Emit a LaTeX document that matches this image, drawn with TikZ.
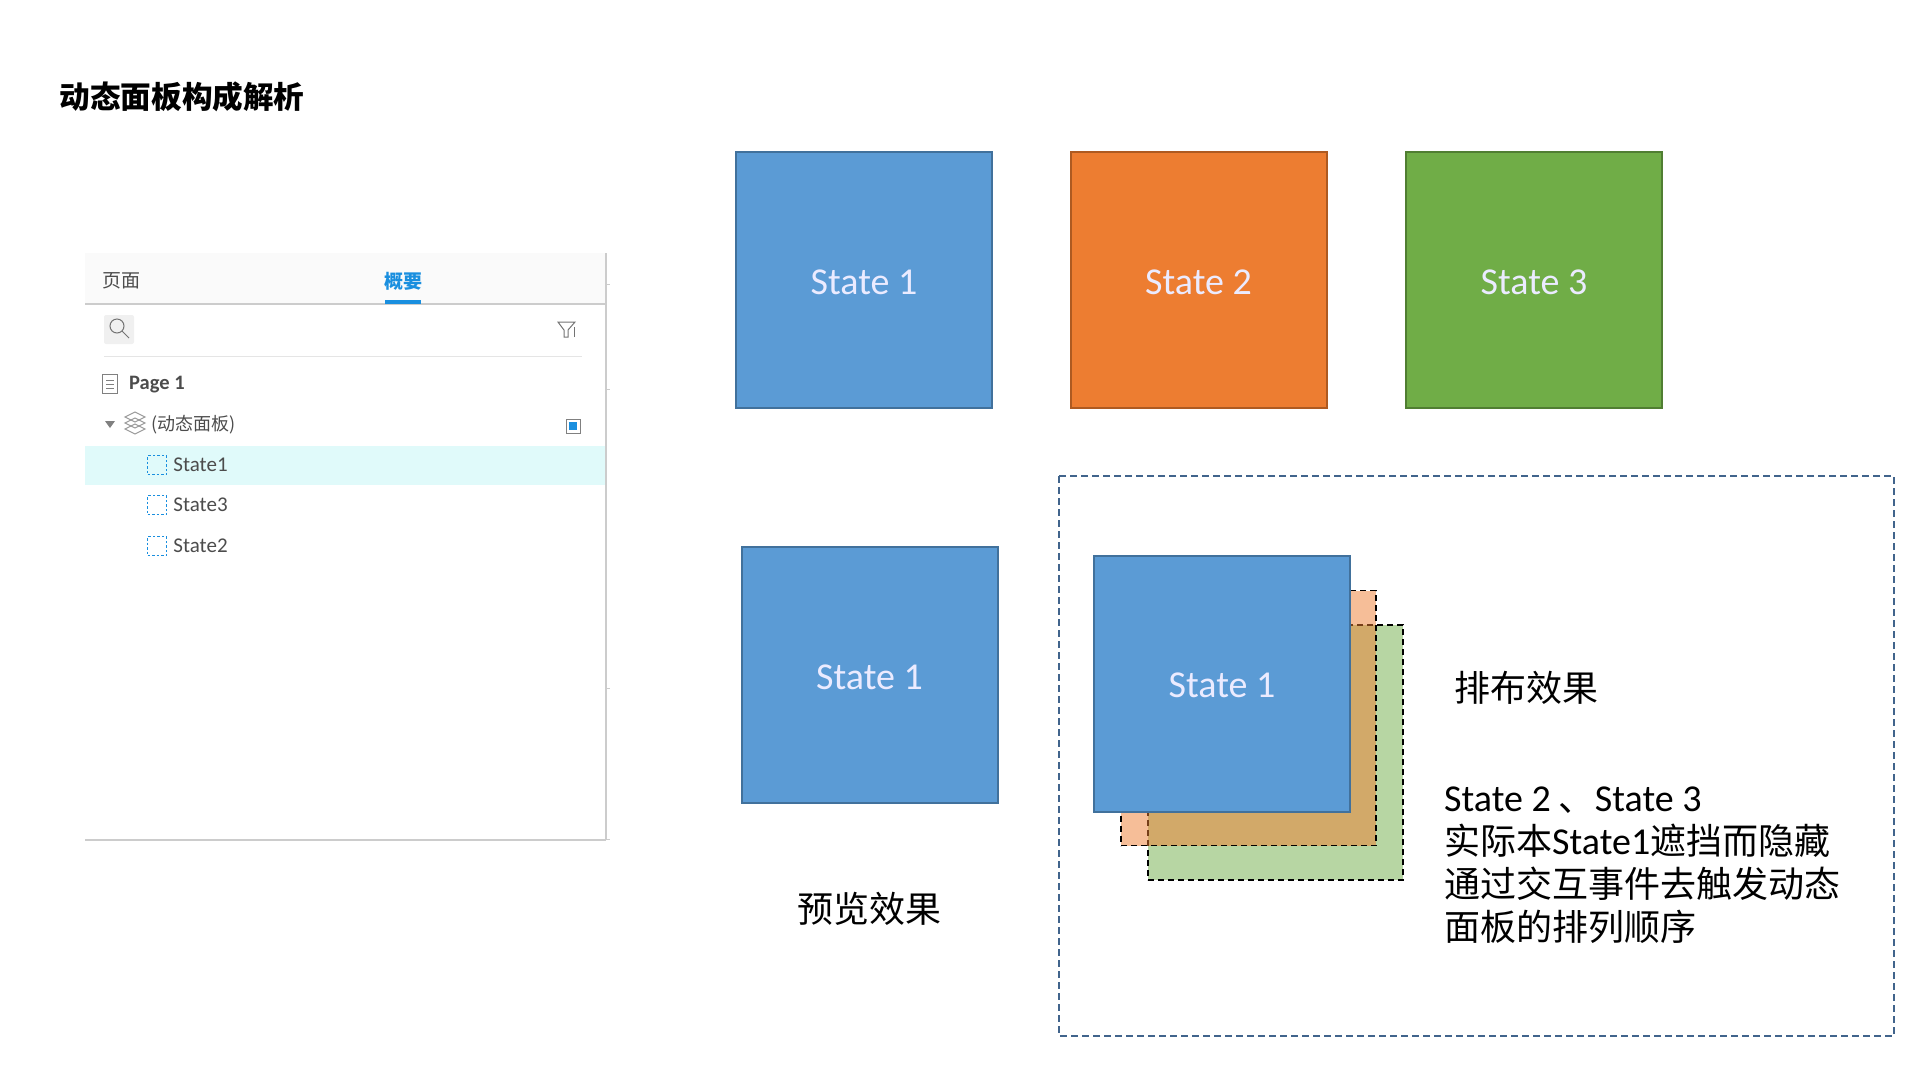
\documentclass[tikz,border=0pt]{standalone}
\usepackage{fontspec}
\setmainfont{Carlito}
\newfontfamily\cjk{Noto Sans CJK SC}
\newcommand{\statename}[1]{{\rmfamily\fontsize{38}{43}\selectfont #1}}
\definecolor{rowblue}{RGB}{26,143,223}
\definecolor{rowhigh}{RGB}{224,250,250}
\usetikzlibrary{positioning}

\begin{document}
\begin{tikzpicture}[
  x=1pt,y=-1pt,
  every node/.style={inner sep=0pt,font=\cjk\fontsize{36}{43}\selectfont},
  statebox/.style={minimum size=256pt,line width=2pt,text=white!92!blue,text height=28pt,text depth=0pt,font=\fontsize{38}{44}\selectfont},
  backbox/.style={minimum size=255pt,draw=black,dashed,line width=1.6pt,fill opacity=.5,text opacity=1,dash pattern=on 6pt off 4pt},
  row/.style={font=\fontsize{21}{24}\selectfont,text=black!70,anchor=west},
  rowicon/.style={minimum size=19pt,draw=rowblue,line width=1.5pt,dash pattern=on 2.5pt off 2pt},
  panelline/.style={draw=black!20,line width=1.4pt}
]
\useasboundingbox (0,0) rectangle (1920,1080);

% ------------------------------------------------------------
% Title
% ------------------------------------------------------------
\node[font=\cjk\bfseries\fontsize{30.6}{36}\selectfont,anchor=center] (title) at (182,97) {动态面板构成解析};

% ------------------------------------------------------------
% Left panel
% ------------------------------------------------------------
\fill[black!2] (85,253) rectangle (606,304);
\fill[rowhigh] (85,446) rectangle (605,485);
\draw[panelline] (85,304) -- (606,304);
\draw[panelline] (606,253) -- (606,840);
\draw[panelline] (85,840) -- (606,840);
\draw[black!10,line width=1pt] (104,356) -- (582,356);
\foreach \y in {284,389,688,839} \draw[black!20,line width=1pt] (606,\y) -- (610,\y);

\node[font=\cjk\fontsize{19}{22}\selectfont,text=black!70] (tabpage) at (121,281) {页面};
\node[font=\cjk\bfseries\fontsize{19}{22}\selectfont,text=rowblue] (taboutline) at (403,281) {概要};
\fill[rowblue] (385,300) rectangle (421,304);

% search and filter icons
\fill[black!6,rounded corners=2pt] (104,315) rectangle (134,344);
\draw[black!55,line width=1pt] (117,326) circle (7);
\draw[black!55,line width=1pt] (122,331) -- (129,338);
\draw[black!55,line width=1pt] (558,322) -- (575,322) -- (568,330) -- (568,337) -- (564,337) -- (564,330) -- cycle;
\draw[black!55,line width=1pt] (574,337) -- (574,327);

% tree rows
\node[minimum width=15pt,minimum height=19pt,draw=black!50,line width=1pt] (pageicon) at (110,384) {};
\foreach \y in {380,384,388} \draw[black!50,line width=.8pt] (106,\y) -- (114,\y);
\node[row,font=\bfseries\fontsize{20.5}{24}\selectfont] (pagename) at (129,385) {Page 1};

\fill[black!50] (105,421) -- (115,421) -- (110,428) -- cycle;
\foreach \y in {417,423,429}
  \draw[black!40,line width=1pt] (135,\y-5) -- (145,\y) -- (135,\y+5) -- (125,\y) -- cycle;
\node[row,font=\cjk\fontsize{18}{20}\selectfont] (panelname) at (151,425) {(动态面板)};
\node[minimum size=14pt,draw=black!50,line width=1pt] (pin) at (573,426) {};
\fill[rowblue] (569,422) rectangle (577,430);

\node[rowicon] (icona) at (157,465) {};
\node[rowicon] (iconb) at (157,505) {};
\node[rowicon] (iconc) at (157,546) {};
\node[row,right=6pt of icona] (rowa) {State1};
\node[row,right=6pt of iconb] (rowb) {State3};
\node[row,right=6pt of iconc] (rowc) {State2};

% ------------------------------------------------------------
% The three states
% ------------------------------------------------------------
\node[statebox,fill={rgb,255:red,91;green,155;blue,213},draw={rgb,255:red,65;green,113;blue,156}] (stateone) at (864,280) {State 1};
\node[statebox,fill={rgb,255:red,237;green,125;blue,49},draw={rgb,255:red,174;green,90;blue,33}] (statetwo) at (1198.5,280) {State 2};
\node[statebox,fill={rgb,255:red,112;green,173;blue,71},draw={rgb,255:red,80;green,126;blue,50}] (statethree) at (1534,280) {State 3};

% ------------------------------------------------------------
% Preview
% ------------------------------------------------------------
\node[statebox,fill={rgb,255:red,91;green,155;blue,213},draw={rgb,255:red,65;green,113;blue,156}] (preview) at (869.5,675) {State 1};
\node (previewlabel) at (869,909) {预览效果};

% ------------------------------------------------------------
% Stacking, inside the dashed frame
% ------------------------------------------------------------
\draw[dashed,line width=1.4pt,draw={rgb,255:red,65;green,100;blue,140},dash pattern=on 7pt off 4pt] (1059,476) rectangle (1894,1036);

\node[backbox,fill={rgb,255:red,112;green,173;blue,71}] (stackgreen) at (1275.5,752.5) {};
\node[backbox,fill={rgb,255:red,237;green,125;blue,49}] (stackorange) at (1248.5,718) {};
\node[statebox,fill={rgb,255:red,91;green,155;blue,213},draw={rgb,255:red,65;green,113;blue,156}] (stackblue) at (1222,683.5) {State 1};

\node (stacklabel) at (1526,688) {排布效果};
\node[anchor=north west,align=left] (note) at (1444,786.5) {\statename{State 2} 、\statename{State 3}\\实际本\statename{State1}遮挡而隐藏\\通过交互事件去触发动态\\面板的排列顺序};

\end{tikzpicture}
\end{document}
